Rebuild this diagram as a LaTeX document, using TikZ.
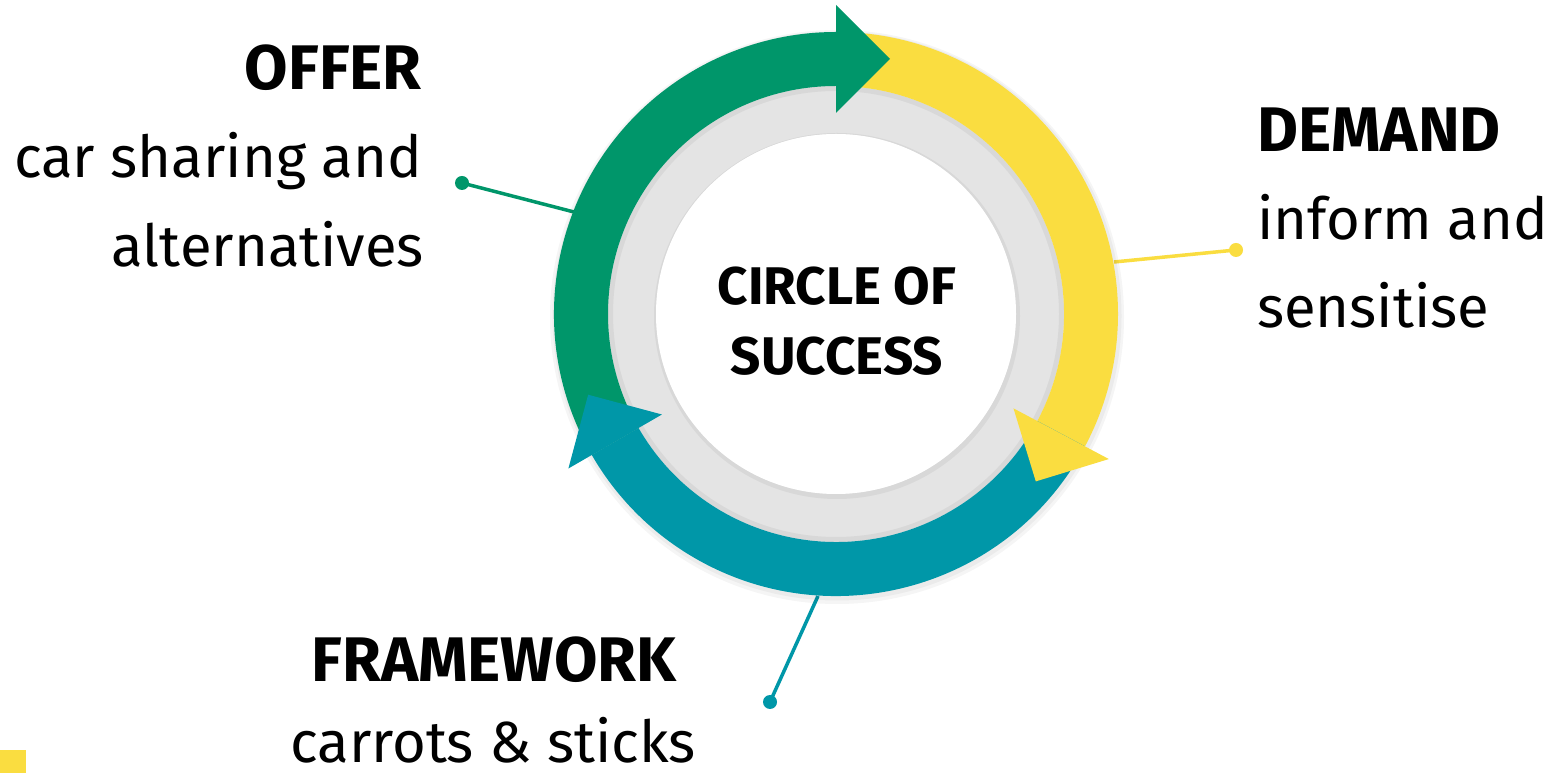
\documentclass[tikz,border=0pt]{standalone}
\usepackage{fontspec}
\setmainfont{Fira Sans}
\usetikzlibrary{calc}
\definecolor{cgreen}{RGB}{0,150,106}
\definecolor{cyellow}{RGB}{250,221,64}
\definecolor{cteal}{RGB}{0,151,168}
\definecolor{cgray}{RGB}{228,228,228}
\newcommand\ringarc[3]{\fill[#1] ($(C)+(#2:282)$) arc[start angle=#2,end angle=#3,radius=282] -- ($(C)+(#3:228)$) arc[start angle=#3,end angle=#2,radius=228] -- cycle;}
\newcommand\ringhead[2]{\fill[#1] ($(C)+(#2:201)$) -- ($(C)+(#2:309)$) -- ($(C)+(#2:255)+(#2-90:54)$) -- cycle;}
\tikzset{
  head/.style={inner sep=0pt, font=\fontsize{63}{75}\selectfont\bfseries},
  body/.style={inner sep=0pt, font=\fontsize{58}{70}\selectfont},
  centre/.style={inner sep=0pt, font=\fontsize{53}{63}\selectfont\bfseries},
  dot/.style={circle, inner sep=0pt, minimum size=14pt},
  leader/.style={line width=3.5pt}
}
\begin{document}
\begin{tikzpicture}[x=1pt,y=1pt]
\useasboundingbox (0,0) rectangle (1558,773);
\fill[white] (0,0) rectangle (1558,773);
\coordinate (C) at (836,459);
% leader lines
\node[dot, fill=cgreen] (dg) at (462,590) {};
\coordinate (rg) at (574,561);
\node[dot, fill=cyellow] (dy) at (1236,523) {};
\coordinate (ry) at (1114,511);
\node[dot, fill=cteal] (dt) at (770,71) {};
\coordinate (rt) at (818,177);
\draw[leader, cgreen] (dg.center) -- (rg);
\draw[leader, cyellow] (dy.center) -- (ry);
\draw[leader, cteal] (dt.center) -- (rt);
% soft shadow
\fill[black, opacity=0.04] ($(C)+(1,-3)$) circle (287);
\fill[black, opacity=0.04] ($(C)+(1,-2)$) circle (284.5);
% grey ring and white centre
\fill[cgray] (C) circle (228);
\fill[black, opacity=0.05, even odd rule] (C) circle (228) circle (223);
\fill[black, opacity=0.05, even odd rule] ($(C)+(1,-2)$) circle (183) (C) circle (180);
\fill[white] (C) circle (180);
% coloured arcs
\ringarc{cgreen}{210}{90}
\ringarc{cyellow}{90}{-28}
\ringarc{cteal}{-28}{-150}
\ringhead{cgreen}{90}
\ringhead{cyellow}{-28}
\ringhead{cteal}{210}
% texts
\node[centre, anchor=base] (c1) at (837,468) {CIRCLE OF};
\node[centre, anchor=base] (c2) at (837,398) {SUCCESS};
\node[head, anchor=base east] (o1) at (422,683) {OFFER};
\node[body, anchor=base east] (o2) at (422,595) {car sharing and};
\node[body, anchor=base east] (o3) at (424,506) {alternatives};
\node[head, anchor=base west] (d1) at (1257,621) {DEMAND};
\node[body, anchor=base west] (d2) at (1257,533) {inform and};
\node[body, anchor=base west] (d3) at (1257,445) {sensitise};
\node[head, anchor=base] (f1) at (494,91) {FRAMEWORK};
\node[body, anchor=base] (f2) at (493,10) {carrots \& sticks};
% yellow square
\fill[cyellow] (0,0) rectangle (26,23);
\end{tikzpicture}
\end{document}
